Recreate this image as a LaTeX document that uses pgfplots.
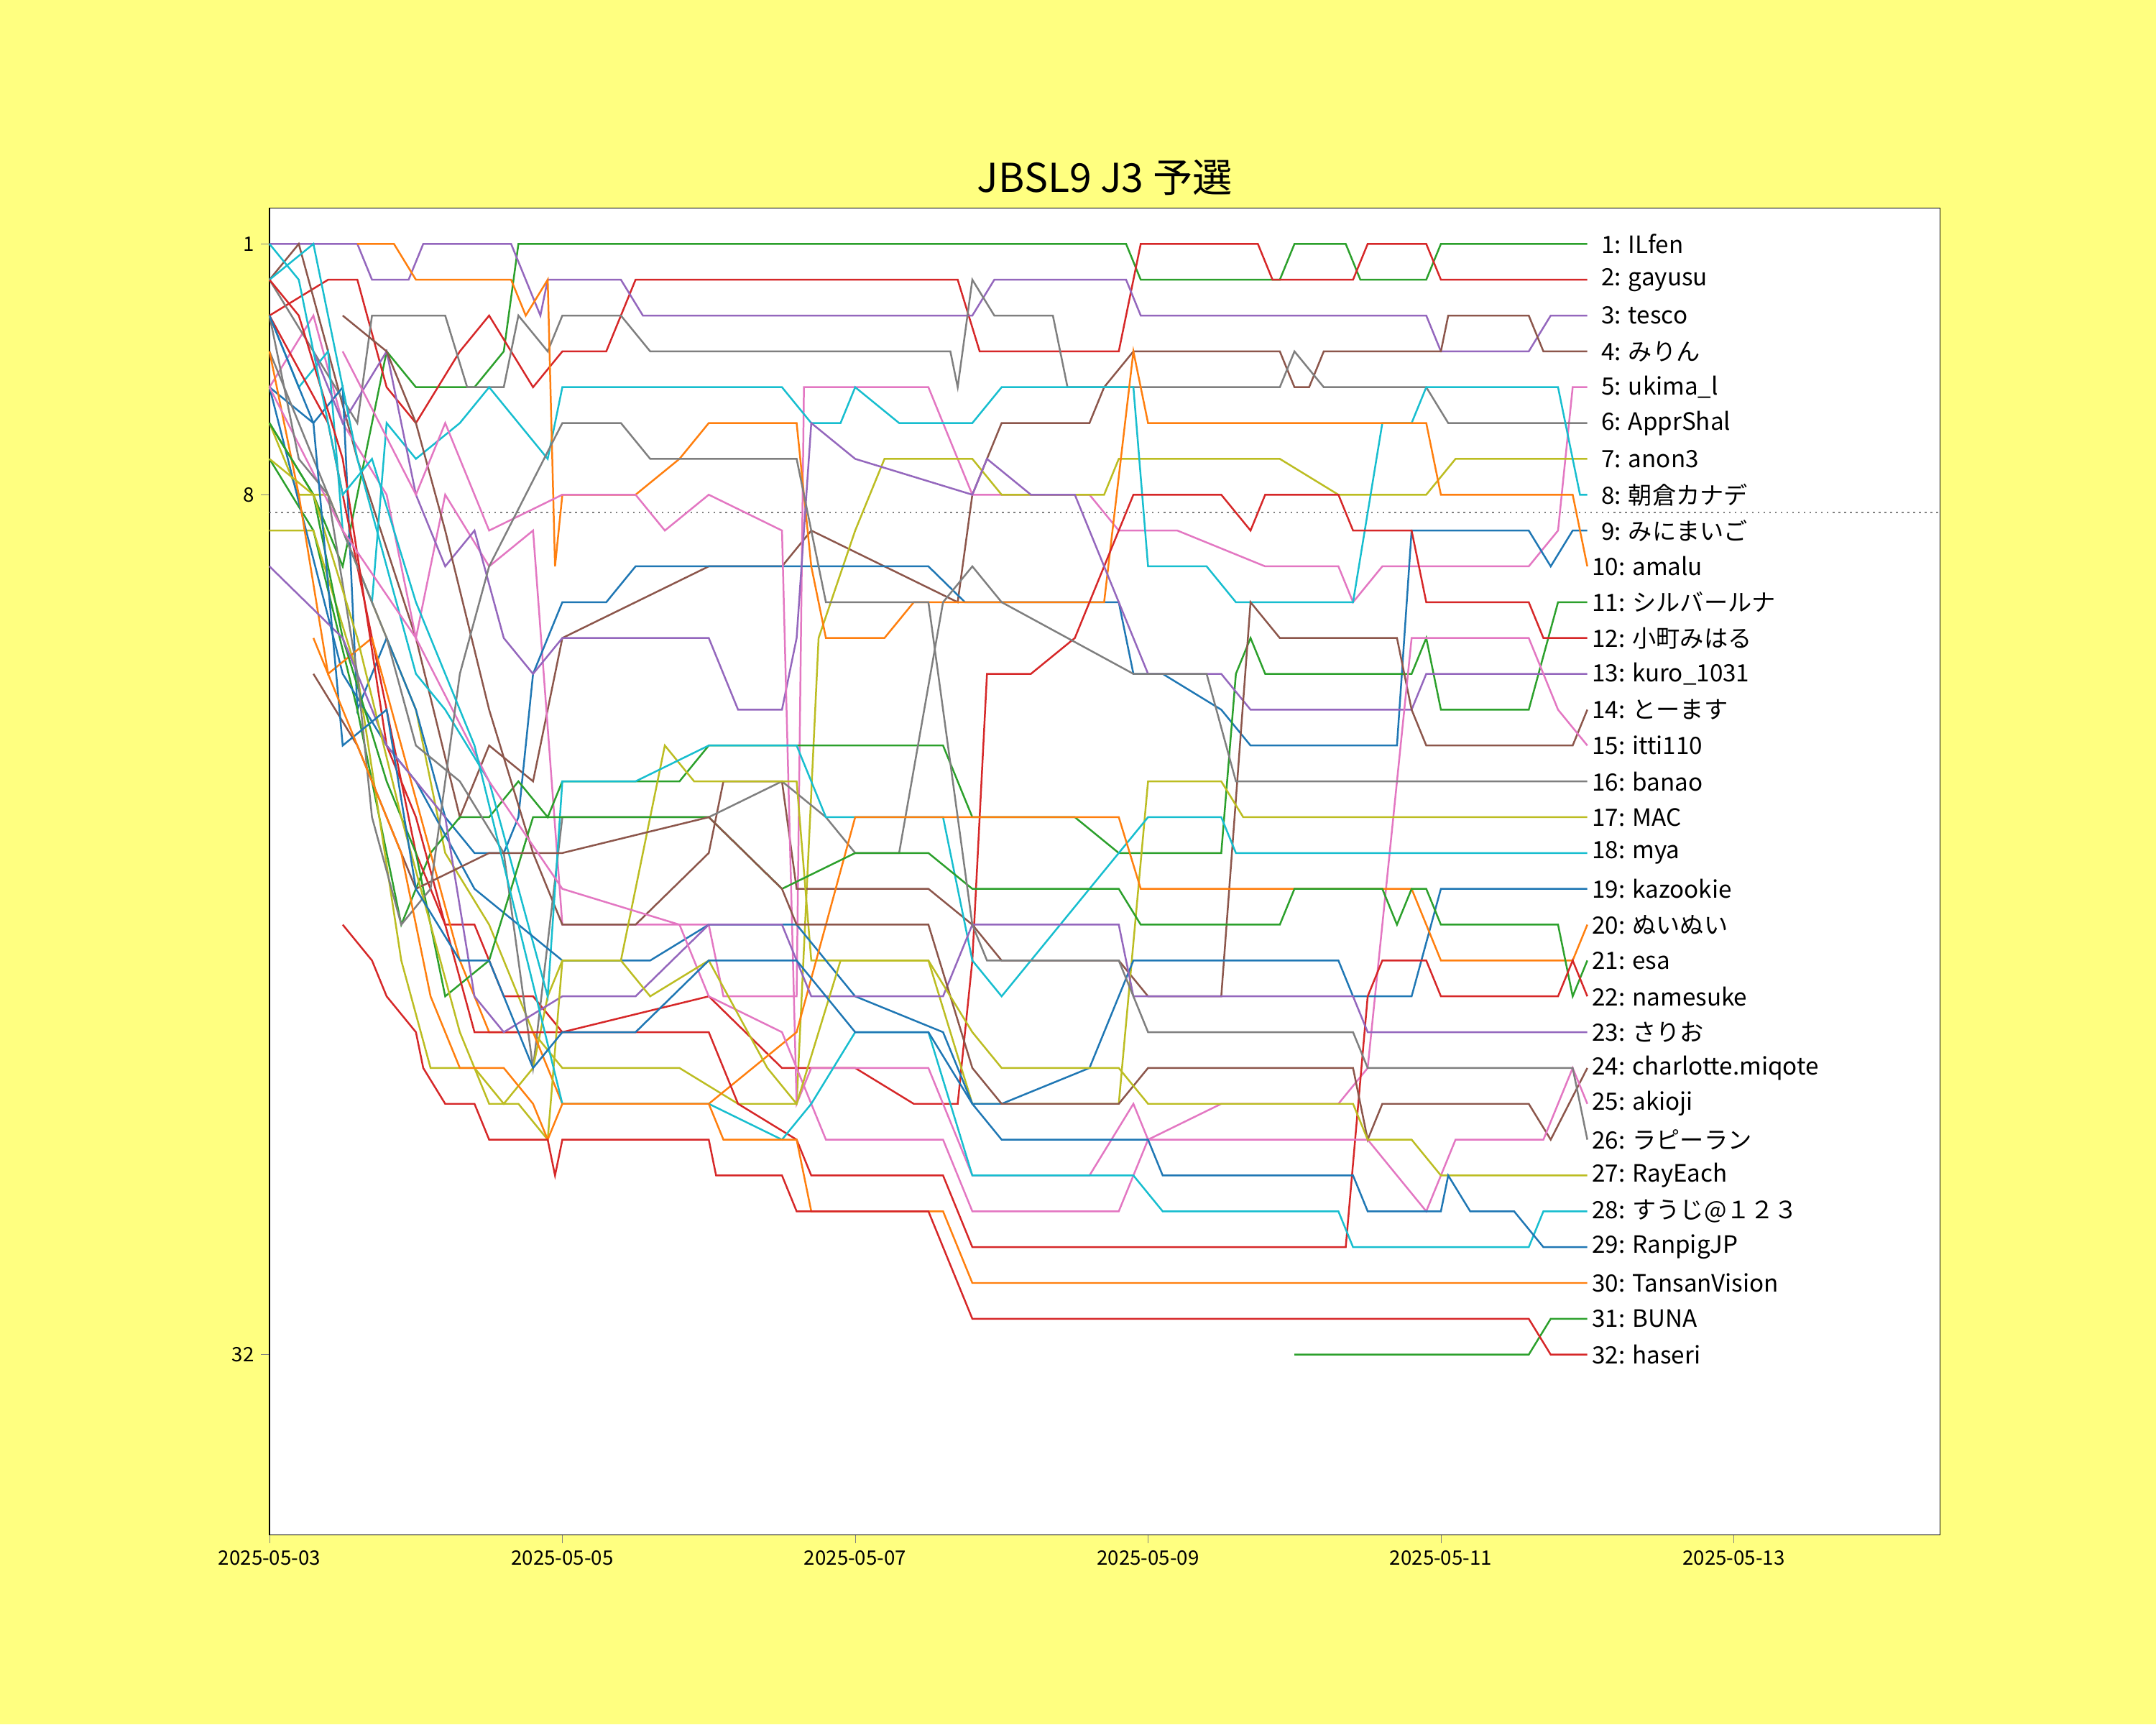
\documentclass[border=0pt]{standalone}
\usepackage{pgfplots}
\pgfplotsset{compat=1.18}
\usepackage{fontspec}
\setmainfont{Noto Sans CJK JP}
\definecolor{bg}{RGB}{255,255,128}
\definecolor{c0}{HTML}{1F77B4}
\definecolor{c1}{HTML}{FF7F0E}
\definecolor{c2}{HTML}{2CA02C}
\definecolor{c3}{HTML}{D62728}
\definecolor{c4}{HTML}{9467BD}
\definecolor{c5}{HTML}{8C564B}
\definecolor{c6}{HTML}{E377C2}
\definecolor{c7}{HTML}{7F7F7F}
\definecolor{c8}{HTML}{BCBD22}
\definecolor{c9}{HTML}{17BECF}
\begin{document}
\begin{tikzpicture}
\fill[bg] (-135.5pt,-95.4pt) rectangle ++(1084pt,867pt);
\path[use as bounding box] (-135.5pt,-95.4pt) rectangle ++(1084pt,867pt);
\begin{axis}[at={(0,0)},anchor=south west,scale only axis,width=840pt,height=667pt,
 axis background/.style={fill=white},
 xmin=0,xmax=11.41,ymin=0,ymax=37.03,y dir=reverse,
 xtick={0,2,4,6,8,10},xticklabels={2025-05-03,2025-05-05,2025-05-07,2025-05-09,2025-05-11,2025-05-13},
 ytick={1,8,32},tick label style={font=\fontsize{10}{12}\selectfont},
 xtick pos=bottom, ytick pos=left,
 /pgf/number format/assume math mode=true,
 title={JBSL9 J3 予選},title style={font=\fontsize{20}{24}\selectfont,yshift=-3pt},
 every axis plot/.append style={line width=0.9pt},
 tick align=outside, clip=false]
\addplot[gray,dotted,line width=0.6pt] coordinates {(0,8.5)(11.41,8.5)};
\addplot[c2] coordinates {(0,6)(0.3,8)(0.5,10)(0.8,4)(1.0,5)(1.4,5)(1.6,4)(1.7,1)(5.85,1)(5.95,2)(6.9,2)(7.0,1)(7.35,1)(7.45,2)(7.9,2)(8.0,1)(9,1)};
\addplot[c3] coordinates {(0,3)(0.4,2)(0.6,2)(0.8,5)(1.0,6)(1.3,4)(1.5,3)(1.8,5)(2.0,4)(2.3,4)(2.5,2)(4.7,2)(4.85,4)(5.8,4)(5.95,1)(6.75,1)(6.85,2)(7.4,2)(7.5,1)(7.9,1)(8.0,2)(9,2)};
\addplot[c4] coordinates {(0,1)(0.6,1)(0.7,2)(0.95,2)(1.05,1)(1.65,1)(1.85,3)(1.9,2)(2.4,2)(2.55,3)(4.8,3)(4.95,2)(5.85,2)(5.95,3)(7.9,3)(8.0,4)(8.6,4)(8.75,3)(9,3)};
\addplot[c5] coordinates {(0,2)(0.2,1)(0.4,4)(0.6,7)(1,12)(1.3,17)(1.5,15)(1.8,16)(2,12)(3,10)(3.5,10)(3.7,9)(4.7,11)(4.8,8)(5,6)(5.6,6)(5.7,5)(5.9,4)(6.9,4)(7.0,5)(7.1,5)(7.2,4)(8.0,4)(8.05,3)(8.6,3)(8.7,4)(9,4)};
\addplot[c6] coordinates {(0,5)(0.3,3)(0.5,6)(0.8,8)(1.0,12)(1.2,8)(1.5,10)(1.8,9)(2.0,20)(3.0,20)(3.1,22)(3.6,22)(3.65,5)(4.5,5)(4.8,8)(5.6,8)(5.8,9)(6.2,9)(6.8,10)(7.3,10)(7.4,11)(7.6,10)(8.6,10)(8.8,9)(8.9,5)(9,5)};
\addplot[c7] coordinates {(0,2)(0.3,4)(0.6,6)(0.7,3)(1.2,3)(1.35,5)(1.6,5)(1.7,3)(1.9,4)(2.0,3)(2.4,3)(2.6,4)(4.65,4)(4.7,5)(4.8,2)(4.95,3)(5.35,3)(5.45,5)(5.9,5)(6.9,5)(7.0,4)(7.2,5)(7.9,5)(8.05,6)(9,6)};
\addplot[c8] coordinates {(0,6)(0.2,8)(0.4,8)(0.6,10)(1.0,14)(1.2,18)(1.5,20)(1.8,23)(2.0,24)(2.8,24)(3.2,25)(3.6,25)(3.75,12)(4.0,9)(4.2,7)(4.8,7)(5.0,8)(5.7,8)(5.8,7)(6.9,7)(7.3,8)(7.9,8)(8.1,7)(9,7)};
\addplot[c9] coordinates {(0,3)(0.2,5)(0.4,4)(0.5,9)(0.7,11)(0.8,6)(1.0,7)(1.3,6)(1.5,5)(1.7,6)(1.9,7)(2.0,5)(3.5,5)(3.7,6)(3.9,6)(4.0,5)(4.3,6)(4.8,6)(5.0,5)(5.9,5)(6.0,10)(6.4,10)(6.6,11)(7.4,11)(7.6,6)(7.8,6)(7.9,5)(8.8,5)(8.95,8)(9,8)};
\addplot[c0] coordinates {(0,5)(0.3,6)(0.5,5)(0.6,14)(0.8,12)(1.0,14)(1.2,17)(1.4,18)(1.6,18)(1.7,17)(1.8,13)(2.0,11)(2.3,11)(2.5,10)(4.5,10)(4.75,11)(5.8,11)(5.9,13)(6.1,13)(6.5,14)(6.7,15)(7.7,15)(7.8,9)(8.6,9)(8.75,10)(8.9,9)(9,9)};
\addplot[c1] coordinates {(0.6,1)(0.85,1)(1.0,2)(1.65,2)(1.75,3)(1.9,2)(1.95,10)(2.0,8)(2.5,8)(2.8,7)(3.0,6)(3.6,6)(3.7,10)(3.8,12)(4.2,12)(4.4,11)(5.7,11)(5.9,4)(6.0,6)(7.9,6)(8.0,8)(8.9,8)(9.0,10)};
\addplot[c2] coordinates {(0,7)(0.3,9)(0.6,14)(0.9,20)(1.1,18)(1.3,17)(1.5,17)(1.7,16)(1.9,17)(2.0,16)(2.8,16)(3.0,15)(4.6,15)(4.8,17)(5.5,17)(5.8,18)(6.5,18)(6.6,13)(6.7,12)(6.8,13)(7.8,13)(7.9,12)(8.0,14)(8.6,14)(8.8,11)(9,11)};
\addplot[c3] coordinates {(0,3)(0.4,6)(0.6,10)(0.8,14)(1.0,18)(1.2,20)(1.4,20)(1.6,22)(1.8,22)(2.0,23)(3.0,22)(3.5,24)(4.0,24)(4.4,25)(4.7,25)(4.8,21)(4.9,13)(5.2,13)(5.5,12)(5.9,8)(6.5,8)(6.7,9)(6.8,8)(7.3,8)(7.4,9)(7.8,9)(7.9,11)(8.6,11)(8.7,12)(9,12)};
\addplot[c4] coordinates {(0.3,4)(0.5,6)(0.8,4)(1.0,8)(1.2,10)(1.4,9)(1.6,12)(1.8,13)(2.0,12)(3.0,12)(3.2,14)(3.5,14)(3.6,12)(3.7,6)(4.0,7)(4.8,8)(4.9,7)(5.2,8)(5.5,8)(5.8,11)(6.0,13)(6.5,13)(6.7,14)(7.8,14)(7.9,13)(9,13)};
\addplot[c5] coordinates {(0.5,3)(0.8,4)(1.0,6)(1.2,9)(1.5,14)(1.8,18)(2.0,20)(2.5,20)(3.0,18)(3.1,16)(3.5,16)(3.6,19)(4.5,19)(4.8,20)(5.0,21)(5.8,21)(6.0,22)(6.5,22)(6.7,11)(6.9,12)(7.7,12)(7.8,14)(7.9,15)(8.9,15)(9.0,14)};
\addplot[c6] coordinates {(0.5,4)(1.0,8)(1.2,6)(1.5,9)(2.0,8)(2.5,8)(2.7,9)(3.0,8)(3.5,9)(3.6,25)(3.7,24)(4.5,24)(4.8,27)(5.6,27)(5.9,25)(6.0,26)(6.5,25)(7.3,25)(7.5,24)(7.8,12)(8.6,12)(8.8,14)(9,15)};
\addplot[c7] coordinates {(0,4)(0.4,8)(0.8,12)(1.0,15)(1.3,16)(1.6,18)(1.8,24)(2.0,17)(3.0,17)(3.5,16)(3.8,17)(4.0,18)(4.3,18)(4.6,11)(4.8,10)(5.0,11)(5.9,13)(6.4,13)(6.6,16)(9,16)};
\addplot[c8] coordinates {(0,9)(0.3,9)(0.6,13)(0.9,21)(1.1,24)(1.4,24)(1.6,25)(1.8,24)(1.9,22)(2.0,21)(2.4,21)(2.7,15)(2.9,16)(3.6,16)(3.7,21)(4.5,21)(4.8,25)(5.8,25)(6.0,16)(6.5,16)(6.65,17)(9,17)};
\addplot[c9] coordinates {(0,2)(0.3,1)(0.6,7)(0.8,10)(1.0,13)(1.2,14)(1.5,16)(1.9,22)(2.0,16)(2.5,16)(3.0,15)(3.6,15)(3.8,17)(4.6,17)(4.8,21)(5.0,22)(6.0,17)(6.5,17)(6.6,18)(9,18)};
\addplot[c0] coordinates {(0,5)(0.5,13)(0.8,15)(1.0,16)(1.4,19)(1.7,20)(2.0,21)(2.6,21)(3.0,20)(3.6,20)(4.0,22)(4.6,23)(4.8,25)(5.0,25)(5.6,24)(5.9,21)(7.3,21)(7.4,22)(7.8,22)(8.0,19)(9,19)};
\addplot[c1] coordinates {(0,4)(0.2,8)(0.4,13)(0.7,12)(0.9,15)(1.1,18)(1.3,21)(1.5,23)(1.8,23)(2.0,25)(3.0,25)(3.3,24)(3.6,23)(4.0,17)(5.8,17)(5.95,19)(7.8,19)(7.9,20)(8.0,21)(8.9,21)(9,20)};
\addplot[c2] coordinates {(0,6)(0.3,8)(0.5,12)(0.8,16)(1.0,18)(1.2,22)(1.5,21)(1.8,17)(3.0,17)(3.5,19)(4.0,18)(4.5,18)(4.8,19)(5.8,19)(5.95,20)(6.9,20)(7.0,19)(7.6,19)(7.7,20)(7.8,19)(7.9,19)(8.0,20)(8.8,20)(8.9,22)(9,21)};
\addplot[c3] coordinates {(0,2)(0.2,3)(0.5,7)(0.8,15)(1.0,17)(1.2,20)(1.4,23)(2.0,23)(3.0,23)(3.2,25)(3.6,26)(3.7,27)(4.6,27)(4.8,29)(7.35,29)(7.5,22)(7.6,21)(7.9,21)(8.0,22)(8.8,22)(8.9,21)(9,22)};
\addplot[c4] coordinates {(0,10)(0.5,12)(0.8,15)(1.2,17)(1.4,22)(1.6,23)(2.0,22)(2.5,22)(3.0,20)(3.5,20)(3.7,22)(4.6,22)(4.8,20)(5.8,20)(5.9,22)(7.4,22)(7.5,23)(9,23)};
\addplot[c5] coordinates {(0.3,13)(0.6,15)(0.8,17)(1.0,19)(1.5,18)(2.0,18)(3.0,17)(3.5,19)(3.6,20)(4.5,20)(4.8,24)(5.0,25)(5.8,25)(6.0,24)(7.4,24)(7.5,26)(7.6,25)(8.6,25)(8.75,26)(9,24)};
\addplot[c6] coordinates {(0,5)(0.5,9)(1.0,12)(1.5,16)(2.0,19)(2.8,20)(3.0,22)(3.5,23)(3.8,26)(4.6,26)(4.8,28)(5.8,28)(6.0,26)(7.5,26)(7.9,28)(8.1,26)(8.7,26)(8.9,24)(9,25)};
\addplot[c7] coordinates {(0,3)(0.2,7)(0.4,8)(0.6,13)(0.7,17)(0.9,20)(1.1,19)(1.3,13)(1.5,10)(2.0,6)(2.4,6)(2.6,7)(3.6,7)(3.8,11)(4.5,11)(4.8,20)(4.9,21)(5.8,21)(6.0,23)(7.4,23)(7.5,24)(8.9,24)(9,26)};
\addplot[c8] coordinates {(0,7)(0.3,8)(0.6,12)(0.9,17)(1.1,20)(1.3,23)(1.5,25)(1.7,25)(1.9,26)(2.0,21)(2.4,21)(2.6,22)(3.0,21)(3.4,24)(3.6,25)(3.9,21)(4.5,21)(4.8,23)(5.0,24)(5.8,24)(6.0,25)(7.4,25)(7.5,26)(7.8,26)(8.0,27)(9,27)};
\addplot[c9] coordinates {(0,1)(0.2,2)(0.5,8)(0.7,7)(1.0,11)(1.4,15)(1.7,20)(2.0,25)(3.0,25)(3.5,26)(3.7,25)(4.0,23)(4.5,23)(4.8,27)(5.9,27)(6.1,28)(7.3,28)(7.4,29)(8.6,29)(8.7,28)(9,28)};
\addplot[c0] coordinates {(0,3)(0.3,6)(0.5,15)(0.8,14)(1.0,19)(1.3,21)(1.5,21)(1.8,24)(2.0,23)(2.5,23)(3.0,21)(3.6,21)(4.0,23)(4.5,23)(4.8,25)(5.0,26)(6.0,26)(6.1,27)(7.4,27)(7.5,28)(8.0,28)(8.05,27)(8.2,28)(8.5,28)(8.7,29)(9,29)};
\addplot[c1] coordinates {(0.3,12)(0.6,15)(0.9,18)(1.1,22)(1.3,24)(1.6,24)(1.8,25)(1.9,26)(2.0,25)(3.0,25)(3.1,26)(3.6,26)(3.7,28)(4.6,28)(4.8,30)(9,30)};
\addplot[c2] coordinates {(7.0,32)(8.6,32)(8.75,31)(9,31)};
\addplot[c3] coordinates {(0.5,20)(0.7,21)(0.8,22)(1.0,23)(1.05,24)(1.2,25)(1.4,25)(1.5,26)(1.9,26)(1.95,27)(2.0,26)(3.0,26)(3.05,27)(3.5,27)(3.6,28)(4.5,28)(4.7,30)(4.8,31)(8.6,31)(8.75,32)(9,32)};
\begin{scope}[every node/.style={anchor=west,font=\fontsize{12}{14}\selectfont,inner sep=0pt}]
\node at (axis cs:9.03,1) {\ \,1: ILfen};
\node at (axis cs:9.03,2) {\ \,2: gayusu};
\node at (axis cs:9.03,3) {\ \,3: tesco};
\node at (axis cs:9.03,4) {\ \,4: みりん};
\node at (axis cs:9.03,5) {\ \,5: ukima\_l};
\node at (axis cs:9.03,6) {\ \,6: ApprShal};
\node at (axis cs:9.03,7) {\ \,7: anon3};
\node at (axis cs:9.03,8) {\ \,8: 朝倉カナデ};
\node at (axis cs:9.03,9) {\ \,9: みにまいご};
\node at (axis cs:9.03,10) {10: amalu};
\node at (axis cs:9.03,11) {11: シルバールナ};
\node at (axis cs:9.03,12) {12: 小町みはる};
\node at (axis cs:9.03,13) {13: kuro\_1031};
\node at (axis cs:9.03,14) {14: とーます};
\node at (axis cs:9.03,15) {15: itti110};
\node at (axis cs:9.03,16) {16: banao};
\node at (axis cs:9.03,17) {17: MAC};
\node at (axis cs:9.03,18) {18: mya};
\node at (axis cs:9.03,19) {19: kazookie};
\node at (axis cs:9.03,20) {20: ぬいぬい};
\node at (axis cs:9.03,21) {21: esa};
\node at (axis cs:9.03,22) {22: namesuke};
\node at (axis cs:9.03,23) {23: さりお};
\node at (axis cs:9.03,24) {24: charlotte.miqote};
\node at (axis cs:9.03,25) {25: akioji};
\node at (axis cs:9.03,26) {26: ラピーラン};
\node at (axis cs:9.03,27) {27: RayEach};
\node at (axis cs:9.03,28) {28: すうじ@１２３};
\node at (axis cs:9.03,29) {29: RanpigJP};
\node at (axis cs:9.03,30) {30: TansanVision};
\node at (axis cs:9.03,31) {31: BUNA};
\node at (axis cs:9.03,32) {32: haseri};
\end{scope}
\end{axis}
\end{tikzpicture}
\end{document}
